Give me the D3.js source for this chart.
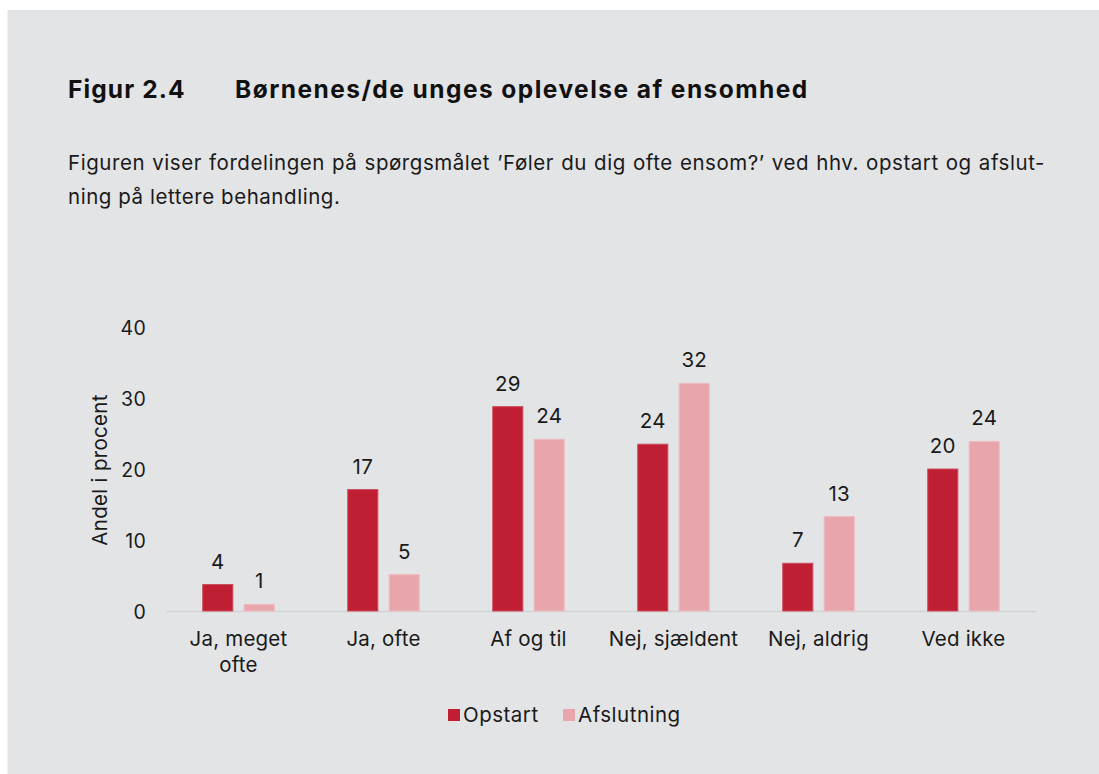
<!DOCTYPE html>
<html>
<head>
<meta charset="utf-8">
<script src="https://cdn.jsdelivr.net/npm/d3@7"></script>
<style>
  body { margin: 0; background: #fff; }
  svg { display: block; font-family: Inter, "Noto Sans", sans-serif; }
</style>
</head>
<body>
<svg width="1099" height="774"></svg>
<script>
var categories = [["Ja, meget", "ofte"], ["Ja, ofte"], ["Af og til"], ["Nej, sjældent"], ["Nej, aldrig"], ["Ved ikke"]];
var seriesNames = ["Opstart", "Afslutning"];
var opstart = [3.8, 17.2, 28.9, 23.6, 6.8, 20.1];
var afslutning = [1.0, 5.2, 24.3, 32.2, 13.4, 24.0];
var yTicks = [0, 10, 20, 30, 40];

var colors = ["#c01e32", "#e8a6ac"];
var strokes = ["#cc4a5a", "#efbcc0"];
var ink = "#1a1a1a";

var svg = d3.select("svg");

// panel background
svg.append("rect").attr("x", 7.5).attr("y", 10).attr("width", 1099 - 7.5).attr("height", 774 - 10)
  .attr("fill", "#e3e4e6");

// title
svg.append("text").attr("x", 68).attr("y", 97.5).attr("font-size", 24.5).attr("font-weight", 700)
  .attr("letter-spacing", 1.1).attr("fill", "#111").text("Figur 2.4");
svg.append("text").attr("x", 235).attr("y", 97.5).attr("font-size", 24.5).attr("font-weight", 700)
  .attr("letter-spacing", 1.45).attr("fill", "#111").text("Børnenes/de unges oplevelse af ensomhed");

// subtitle, first line justified to the right margin
var sub1 = svg.append("text").attr("x", 68).attr("y", 170).attr("font-size", 20.5)
  .attr("letter-spacing", 0.55).attr("fill", ink)
  .text("Figuren viser fordelingen på spørgsmålet ’Føler du dig ofte ensom?’ ved hhv. opstart og afslut-");
var sub1Len = sub1.node().getComputedTextLength();
var spaces = sub1.text().split(" ").length - 1;
var extra = (1045 - 68 - sub1Len) / spaces;
if (extra > 0) sub1.attr("word-spacing", extra);
svg.append("text").attr("x", 68).attr("y", 203.5).attr("font-size", 20.5)
  .attr("letter-spacing", 0.55).attr("fill", ink).text("ning på lettere behandling.");

var x0 = d3.scaleBand().domain(d3.range(categories.length)).range([166, 1036]).paddingInner(0.5).paddingOuter(0.25);
var x1 = d3.scaleBand().domain(seriesNames).range([0, x0.bandwidth()]).paddingInner(0.25);
var y = d3.scaleLinear().domain([0, 40]).range([611.5, 328]);

// y tick labels
var yAxis = svg.append("g").attr("transform", "translate(146,0)")
  .call(d3.axisLeft(y).tickValues(yTicks).tickSize(0).tickPadding(0));
yAxis.select(".domain").remove();
yAxis.selectAll("text").attr("font-size", 19.5).attr("fill", ink).attr("letter-spacing", 0.3)
  .attr("font-family", "Inter, 'Noto Sans', sans-serif").attr("dy", "0.35em");

svg.append("text").attr("transform", "translate(107,470) rotate(-90)")
  .attr("text-anchor", "middle").attr("font-size", 20.5).attr("letter-spacing", 0.3)
  .attr("fill", ink).text("Andel i procent");

// baseline
svg.append("line").attr("x1", 166).attr("x2", 1036).attr("y1", y(0)).attr("y2", y(0))
  .attr("stroke", "#d2d3d5").attr("stroke-width", 1.5);

var rows = categories.map(function(c, i) { return [opstart[i], afslutning[i]]; });

var groups = svg.selectAll(".grp").data(rows).enter().append("g")
  .attr("transform", function(d, i) { return "translate(" + x0(i) + ",0)"; });

groups.selectAll("rect").data(function(d) { return d; }).enter().append("rect")
  .attr("x", function(d, j) { return x1(seriesNames[j]) + 0.5; })
  .attr("width", x1.bandwidth() - 1)
  .attr("y", function(d) { return y(d); })
  .attr("height", function(d) { return y(0) - y(d) - 0.5; })
  .attr("fill", function(d, j) { return colors[j]; })
  .attr("stroke", function(d, j) { return strokes[j]; })
  .attr("stroke-width", 1);

groups.selectAll(".lbl").data(function(d) { return d; }).enter().append("text")
  .attr("x", function(d, j) { return x1(seriesNames[j]) + x1.bandwidth() / 2; })
  .attr("y", function(d) { return y(d) - 16; })
  .attr("text-anchor", "middle").attr("font-size", 20.5).attr("letter-spacing", 0.2).attr("fill", ink)
  .text(function(d) { return Math.round(d); });

// category labels
var cat = svg.selectAll(".cat").data(categories).enter().append("text")
  .attr("text-anchor", "middle").attr("font-size", 20.5).attr("letter-spacing", 0.2).attr("fill", ink)
  .attr("x", function(d, i) { return x0(i) + x0.bandwidth() / 2; })
  .attr("y", 646);
cat.selectAll("tspan").data(function(d) { return d; }).enter().append("tspan")
  .attr("x", function() { return this.parentNode.getAttribute("x"); })
  .attr("dy", function(d, k) { return k ? 25.5 : 0; })
  .text(function(d) { return d; });

// legend
var legendX = [448, 563];
var leg = svg.selectAll(".leg").data(seriesNames).enter().append("g")
  .attr("transform", function(d, i) { return "translate(" + legendX[i] + ",709)"; });
leg.append("rect").attr("width", 12).attr("height", 12).attr("fill", function(d, i) { return colors[i]; });
leg.append("text").attr("x", 15).attr("y", 12.7).attr("font-size", 20.5).attr("letter-spacing", 0.5)
  .attr("fill", ink).text(function(d) { return d; });
</script>
</body>
</html>
